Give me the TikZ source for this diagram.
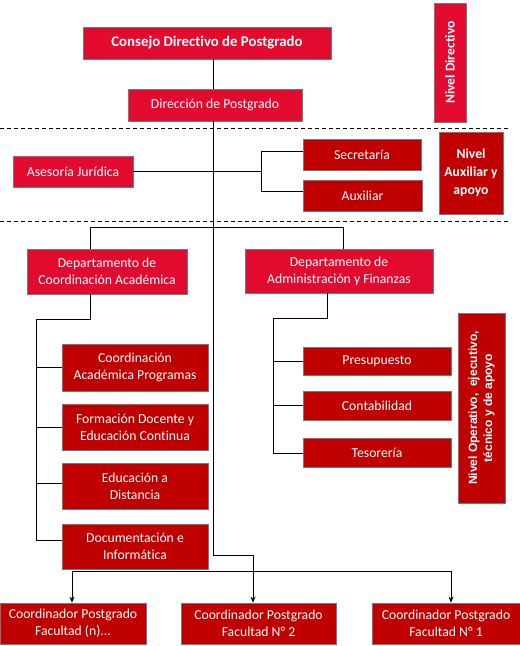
\documentclass[tikz,border=0pt]{standalone}
\usepackage{fontspec}
\setmainfont{Carlito}[Ligatures=NoCommon]
\newfontfamily\arialb{Liberation Sans}
\usetikzlibrary{arrows.meta}
\definecolor{redA}{RGB}{226,10,46}
\definecolor{redB}{RGB}{192,0,0}
\definecolor{boxgray}{RGB}{120,120,120}
\tikzset{
  box/.style={draw=boxgray, line width=0.8pt, text=white, align=center, inner sep=0pt,
    font=\fontsize{13.7}{16.7}\selectfont},
  bright/.style={box, fill=redA},
  dark/.style={box, fill=redB},
  conn/.style={line width=0.8pt, black},
  arr/.style={conn, -{Stealth[length=6pt,width=5pt]}},
  levelsep/.style={line width=0.9pt, dashed, dash pattern=on 4pt off 3pt}
}
\begin{document}
\begin{tikzpicture}[x=1pt,y=-1pt]
\useasboundingbox[fill=white] (0,0) rectangle (520,646);
% top level
\node[bright, minimum width=248pt, minimum height=32pt, font=\fontsize{14.8}{17}\selectfont\bfseries] (consejo) at (207,43) {Consejo Directivo de Postgrado};
\node[bright, minimum width=174pt, minimum height=32pt] (direccion) at (215,105) {Dirección de Postgrado};
\node[bright, minimum width=119pt, minimum height=32pt, rotate=90, font=\fontsize{13.5}{15}\selectfont\bfseries] (nivdir) at (450,62.5) {Nivel Directivo};
% separators
\coordinate (s1a) at (0,128); \coordinate (s1b) at (508,128);
\coordinate (s2a) at (0,221); \coordinate (s2b) at (508,221);
\draw[levelsep] (s1a) -- (s1b);
\draw[levelsep] (s2a) -- (s2b);
% auxiliary level
\node[bright, minimum width=120pt, minimum height=31pt] (asesoria) at (73,171.5) {Asesoría Jurídica};
\node[dark, minimum width=118pt, minimum height=31pt] (secretaria) at (362,154.5) {Secretaría};
\node[dark, minimum width=119pt, minimum height=31pt] (auxiliar) at (362.5,195.5) {Auxiliar};
\node[dark, minimum width=64pt, minimum height=82pt, font=\fontsize{13.7}{18}\selectfont\bfseries] (nivaux) at (471,173) {Nivel\\Auxiliar y\\apoyo};
% departments
\node[bright, minimum width=160pt, minimum height=45pt] (deptcoord) at (107,271.5) {Departamento de\\Coordinación Académica};
\node[bright, minimum width=188pt, minimum height=44pt] (deptadmin) at (339,271) {Departamento de\\Administración y Finanzas};
% academic units
\node[dark, minimum width=146pt, minimum height=47pt] (cap) at (135,367.5) {Coordinación\\Académica Programas};
\node[dark, minimum width=146pt, minimum height=46pt] (fdc) at (135,427) {Formación Docente y\\Educación Continua};
\node[dark, minimum width=146pt, minimum height=46pt] (ead) at (135,486) {Educación a\\Distancia};
\node[dark, minimum width=146pt, minimum height=45pt] (doc) at (135,546.5) {Documentación e\\Informática};
% admin units
\node[dark, minimum width=148pt, minimum height=28pt] (presu) at (377,361) {Presupuesto};
\node[dark, minimum width=148pt, minimum height=29pt] (conta) at (377,405.5) {Contabilidad};
\node[dark, minimum width=148pt, minimum height=29pt] (teso) at (377,452.5) {Tesorería};
\node[dark, minimum width=190pt, minimum height=47pt, rotate=90, font=\arialb\fontsize{12}{15}\selectfont\bfseries] (nivop) at (481.5,408) {Nivel Operativo,\ \ ejecutivo,\\técnico y de apoyo};
% coordinators
\node[dark, minimum width=146pt, minimum height=41pt] (coordn) at (73,623.5) {Coordinador Postgrado\\Facultad (n)...};
\node[dark, minimum width=155pt, minimum height=41pt] (coord2) at (258.5,623.5) {Coordinador Postgrado\\Facultad N° 2};
\node[dark, minimum width=148pt, minimum height=41pt] (coord1) at (446,623.5) {Coordinador Postgrado\\Facultad N° 1};
% main spine
\coordinate (sp1) at (213,555);
\coordinate (sp2) at (253,555);
\draw[conn] (consejo.south -| sp1) -- (direccion.north -| sp1);
\draw[arr] (direccion.south -| sp1) -- (sp1) -- (sp2) -- (coord2.north -| sp2);
% auxiliary branch
\coordinate (ax) at (261,171);
\draw[conn] (asesoria.east |- ax) -- (ax);
\coordinate (axt) at (261,151); \coordinate (axb) at (261,191);
\draw[conn] (secretaria.west |- axt) -- (axt) -- (axb) -- (auxiliar.west |- axb);
% department bus
\coordinate (db1) at (90,227); \coordinate (db2) at (343,227);
\draw[conn] (deptcoord.north -| db1) -- (db1) -- (db2) -- (deptadmin.north -| db2);
% academic branch
\coordinate (ac1) at (90,319); \coordinate (ac2) at (36,319); \coordinate (ac3) at (36,540);
\draw[conn] (deptcoord.south -| ac1) -- (ac1) -- (ac2) -- (ac3) -- (doc.west |- ac3);
\coordinate (acA) at (36,367); \coordinate (acB) at (36,427); \coordinate (acC) at (36,483);
\draw[conn] (acA) -- (cap.west |- acA);
\draw[conn] (acB) -- (fdc.west |- acB);
\draw[conn] (acC) -- (ead.west |- acC);
% admin branch
\coordinate (ad1) at (327,318); \coordinate (ad2) at (273,318); \coordinate (ad3) at (273,453);
\draw[conn] (deptadmin.south -| ad1) -- (ad1) -- (ad2) -- (ad3) -- (teso.west |- ad3);
\coordinate (adA) at (273,361); \coordinate (adB) at (273,405);
\draw[conn] (adA) -- (presu.west |- adA);
\draw[conn] (adB) -- (conta.west |- adB);
% coordinators bus
\coordinate (cb1) at (72,571); \coordinate (cb2) at (451,571);
\draw[arr] (cb1) -- (coordn.north -| cb1);
\draw[arr] (cb2) -- (coord1.north -| cb2);
\draw[conn] (cb1) -- (cb2);
\end{tikzpicture}
\end{document}
